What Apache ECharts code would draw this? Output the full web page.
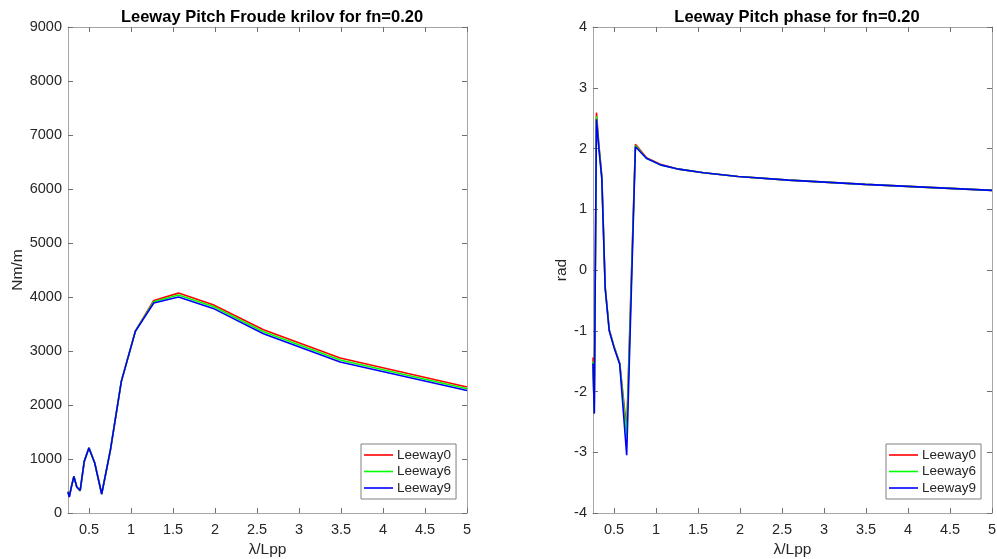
<!DOCTYPE html>
<html>
<head>
<meta charset="utf-8">
<script src="https://cdn.jsdelivr.net/npm/echarts@6/dist/echarts.min.js"></script>
<style>
  html, body { margin: 0; padding: 0; background: #fff; }
  #chart { width: 997px; height: 559px; }
</style>
</head>
<body>
<div id="chart"></div>
<script>
// Wavelength ratio lambda/Lpp (shared by both panels)
const lambdaLpp = [0.25, 0.265, 0.291, 0.320, 0.355, 0.395, 0.443, 0.499, 0.568, 0.651,
                   0.755, 0.885, 1.052, 1.271, 1.566, 1.978, 2.577, 3.49, 5.0];

// Froude-Krylov pitch moment amplitude [Nm/m]
const fkLeeway0 = [395, 300, 490, 680, 478, 410, 950, 1210, 930, 350, 1165, 2440, 3370, 3937, 4072, 3857, 3394, 2870, 2333];
const fkLeeway6 = [392, 298, 488, 678, 480, 414, 953, 1206, 928, 350, 1168, 2438, 3366, 3912, 4037, 3823, 3357, 2833, 2301];
const fkLeeway9 = [390, 296, 487, 677, 481, 419, 956, 1204, 926, 352, 1170, 2437, 3364, 3889, 4000, 3789, 3320, 2796, 2270];

// Pitch moment phase [rad]
const phLeeway0 = [-1.44, -2.36, 2.59, 2.06, 1.55, -0.28, -0.98, -1.25, -1.53, -2.63, 2.07, 1.85, 1.74, 1.66, 1.60, 1.54, 1.48, 1.41, 1.31];
const phLeeway6 = [-1.51, -2.36, 2.53, 2.03, 1.52, -0.29, -0.99, -1.26, -1.54, -2.74, 2.05, 1.84, 1.73, 1.66, 1.60, 1.54, 1.48, 1.41, 1.31];
const phLeeway9 = [-1.54, -2.36, 2.48, 2.00, 1.50, -0.30, -1.00, -1.27, -1.55, -3.05, 2.03, 1.84, 1.73, 1.66, 1.60, 1.54, 1.48, 1.41, 1.31];

const xTicks = [0.5, 1, 1.5, 2, 2.5, 3, 3.5, 4, 4.5, 5];
const seriesNames = ['Leeway0', 'Leeway6', 'Leeway9'];
const seriesColors = ['#ff0000', '#00ff00', '#0000ff'];

const FONT = 'Liberation Sans, Arial, Helvetica, sans-serif';
const TEXT = '#262626';
const BOX = '#a6a6a6';
const TICK = '#707070';
const LABEL_SIZE = 14.5;

const pairs = (ys) => lambdaLpp.map((x, i) => [x, ys[i]]);
const plain = (v) => String(v);

function xAxisPair(gridIndex) {
  const base = {
    type: 'value', gridIndex, min: 0.25, max: 5,
    axisLine: { show: true, onZero: false, lineStyle: { color: BOX, width: 1 } },
    axisTick: { show: true, inside: true, length: 5, customValues: xTicks, lineStyle: { color: TICK } },
    splitLine: { show: false }
  };
  return [
    Object.assign({}, base, {
      position: 'bottom',
      name: 'λ/Lpp', nameLocation: 'middle', nameGap: 28,
      nameTextStyle: { fontFamily: FONT, fontSize: 15.5, color: TEXT },
      axisLabel: { show: true, customValues: xTicks, formatter: plain,
                   fontFamily: FONT, fontSize: LABEL_SIZE, color: TEXT, margin: 9 }
    }),
    Object.assign({}, base, { position: 'top', axisLabel: { show: false } })
  ];
}

function yAxisPair(gridIndex, min, max, interval, name, nameGap) {
  const base = {
    type: 'value', gridIndex, min, max, interval,
    axisLine: { show: true, onZero: false, lineStyle: { color: BOX, width: 1 } },
    axisTick: { show: true, inside: true, length: 5, lineStyle: { color: TICK } },
    splitLine: { show: false }
  };
  return [
    Object.assign({}, base, {
      position: 'left',
      name, nameLocation: 'middle', nameGap, nameRotate: 90,
      nameTextStyle: { fontFamily: FONT, fontSize: 15.5, color: TEXT },
      axisLabel: { show: true, formatter: plain, fontFamily: FONT, fontSize: LABEL_SIZE, color: TEXT, margin: 6 }
    }),
    Object.assign({}, base, { position: 'right', axisLabel: { show: false } })
  ];
}

function lineSeries(name, color, xIdx, yIdx, ys) {
  return {
    name, type: 'line', xAxisIndex: xIdx, yAxisIndex: yIdx,
    data: pairs(ys), showSymbol: false, symbol: 'none', animation: false,
    lineStyle: { color, width: 1.6 }, itemStyle: { color }
  };
}

function legendAt(left, top) {
  return {
    orient: 'vertical', left, top,
    data: seriesNames,
    icon: 'rect', itemWidth: 29, itemHeight: 1.6, itemGap: 2.5,
    padding: [4, 5, 4, 3],
    backgroundColor: '#ffffff',
    borderColor: '#808080', borderWidth: 1,
    textStyle: { fontFamily: FONT, fontSize: 13.5, lineHeight: 14, color: TEXT, padding: [0, 0, 0, -1] },
    selectedMode: false
  };
}

const option = {
  backgroundColor: '#ffffff',
  animation: false,
  title: [
    { text: 'Leeway Pitch Froude krilov for fn=0.20', left: 267, top: 4, textAlign: 'center',
      textStyle: { fontFamily: FONT, fontSize: 16.5, fontWeight: 'bold', color: '#000' } },
    { text: 'Leeway Pitch phase for fn=0.20', left: 792, top: 4, textAlign: 'center',
      textStyle: { fontFamily: FONT, fontSize: 16.5, fontWeight: 'bold', color: '#000' } }
  ],
  grid: [
    { left: 68, right: 530, top: 27, bottom: 46, outerBoundsMode: 'none', containLabel: false },
    { left: 593, right: 5, top: 27, bottom: 46, outerBoundsMode: 'none', containLabel: false }
  ],
  legend: [legendAt(361, 444), legendAt(886, 444)],
  xAxis: [...xAxisPair(0), ...xAxisPair(1)],
  yAxis: [...yAxisPair(0, 0, 9000, 1000, 'Nm/m', 41), ...yAxisPair(1, -4, 4, 1, 'rad', 21)],
  series: [
    lineSeries('Leeway0', seriesColors[0], 0, 0, fkLeeway0),
    lineSeries('Leeway6', seriesColors[1], 0, 0, fkLeeway6),
    lineSeries('Leeway9', seriesColors[2], 0, 0, fkLeeway9),
    lineSeries('Leeway0', seriesColors[0], 2, 2, phLeeway0),
    lineSeries('Leeway6', seriesColors[1], 2, 2, phLeeway6),
    lineSeries('Leeway9', seriesColors[2], 2, 2, phLeeway9)
  ]
};

const chart = echarts.init(document.getElementById('chart'), null, { renderer: 'canvas' });
chart.setOption(option);
</script>
</body>
</html>
